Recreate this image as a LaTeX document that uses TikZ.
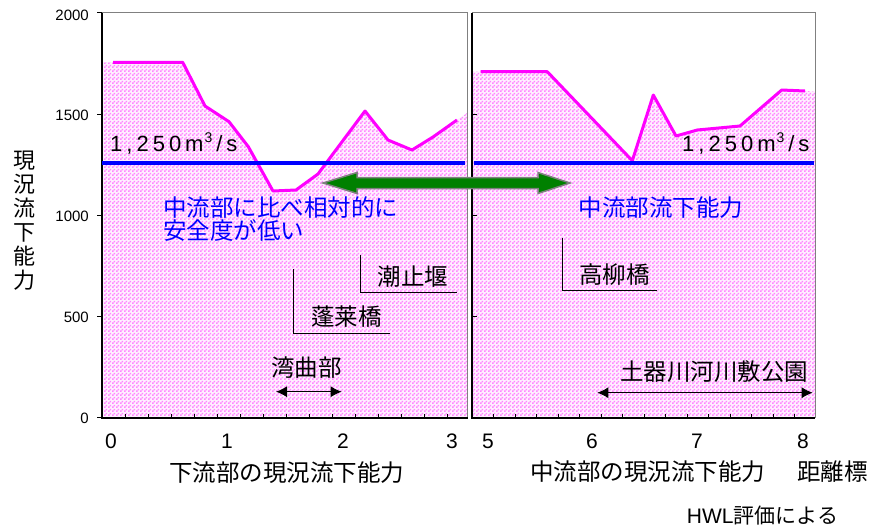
\documentclass[tikz,border=0pt]{standalone}
\usepackage{fontspec}
\setmainfont{Liberation Sans}
\newfontfamily\jp{Noto Sans CJK JP}
\usetikzlibrary{arrows.meta,patterns}
\pgfdeclarepatternformonly{pinkcheck}{\pgfpointorigin}{\pgfpoint{4pt}{4pt}}{\pgfpoint{4pt}{4pt}}{%
  \pgfpathrectangle{\pgfpointorigin}{\pgfpoint{2pt}{2pt}}%
  \pgfpathrectangle{\pgfpoint{2pt}{2pt}}{\pgfpoint{2pt}{2pt}}%
  \pgfusepath{fill}}
\definecolor{pinkline}{RGB}{255,0,255}
\definecolor{pinkpat}{RGB}{255,135,255}
\definecolor{pinkbase}{RGB}{255,240,255}
\definecolor{bluel}{RGB}{0,0,255}
\definecolor{greenarr}{RGB}{0,128,0}
\definecolor{frameg}{RGB}{128,128,128}
\tikzset{
  areafill/.style={fill=pinkbase, draw=none, postaction={pattern=pinkcheck, pattern color=pinkpat}},
  capline/.style={draw=pinkline, line width=3pt, line join=round},
  hwl/.style={draw=bluel, line width=4pt},
  axisk/.style={draw=black, line width=1.6pt},
  frameline/.style={draw=frameg, line width=1pt},
  tickl/.style={draw=black, line width=0.6pt},
  ylab/.style={font=\fontsize{15}{15}\selectfont, inner sep=0, anchor=east},
  xlab/.style={font=\fontsize{21}{21}\selectfont, inner sep=0, anchor=base},
  jplab/.style={font=\jp\fontsize{23.5}{24}\selectfont, inner sep=0, text=black},
  bluelab/.style={font=\jp\fontsize{23.5}{24}\selectfont, inner sep=0, text=bluel},
  bracket/.style={draw=black, line width=0.8pt},
  rangearrow/.style={draw=black, line width=1pt, {Latex[length=11pt,width=11pt]}-{Latex[length=11pt,width=11pt]}},
  flowtxt/.style={font=\fontsize{22}{22}\selectfont, inner sep=0, anchor=base west},
}
\newcommand{\flowval}{1\kern4pt,\kern4pt2\kern4pt5\kern4pt0\kern4pt m\kern1pt\raisebox{0.75ex}{\fontsize{14}{14}\selectfont 3}\kern4pt/\kern4pt s}
\begin{document}
\begin{tikzpicture}[x=1pt, y=-1pt]
\useasboundingbox (0,0) rectangle (872,531);
% fills
\path[areafill] (102,418) -- (102,62.3) -- (113,62.3) -- (182.7,62.3) -- (205,106) -- (229,121.7) -- (248.3,146.7) -- (273,191) -- (296,190) -- (318,174) -- (365,111) -- (388,140) -- (412,150) -- (433,137) -- (457,120) -- (467,113) -- (467,418) -- cycle;
\path[areafill] (472,418) -- (472,71.7) -- (480.7,71.7) -- (547.3,71.7) -- (632.3,160.7) -- (653.3,95) -- (676,136) -- (697.3,130) -- (740,126) -- (781.7,90) -- (805,91) -- (815,91.7) -- (815,418) -- cycle;
% frames
\draw[frameline] (102,12.7) -- (467.5,12.7) -- (467.5,418);
\draw[frameline] (472,12.7) -- (815,12.7) -- (815,418);
% ticks
\foreach \yy in {12.7,114,215.2,316.4,417.7} \draw[tickl] (97,\yy) -- (102,\yy);
\foreach \yy in {114,215.2,316.4} \draw[tickl] (472,\yy) -- (477,\yy);
\foreach \k in {1,...,15} \draw[tickl] (102+23*\k,418) -- (102+23*\k,414);
\foreach \k in {1,...,15} \draw[tickl] (472+21.5*\k,418) -- (472+21.5*\k,414);
% axes
\draw[axisk] (102,12.7) -- (102,418) -- (467.5,418);
\draw[axisk] (472,12.7) -- (472,418) -- (815,418);
% capacity lines
\draw[capline] (113,62.3) -- (182.7,62.3) -- (205,106) -- (229,121.7) -- (248.3,146.7) -- (273,191) -- (296,190) -- (318,174) -- (365,111) -- (388,140) -- (412,150) -- (433,137) -- (457,120);
\draw[capline] (480.7,71.7) -- (547.3,71.7) -- (632.3,160.7) -- (653.3,95) -- (676,136) -- (697.3,130) -- (740,126) -- (781.7,90) -- (805,91);
% design flow lines
\draw[hwl] (102,163.3) -- (465,163.3);
\draw[hwl] (474,163.3) -- (814,163.3);
% green double arrow
\draw[fill=greenarr, draw=frameg, line width=1.5pt, line join=miter] (323,183) -- (357,172.5) -- (357,177.5) -- (538,177.5) -- (538,172.5) -- (570,183) -- (538,193.5) -- (538,188.5) -- (357,188.5) -- (357,193.5) -- cycle;
% y labels
\node[ylab] (y2000) at (89,15) {2000};
\node[ylab] (y1500) at (89,115) {1500};
\node[ylab] (y1000) at (89,216) {1000};
\node[ylab] (y500) at (89,317) {500};
\node[ylab] (y0) at (89,418) {0};
\node[font=\jp\fontsize{22}{24}\selectfont, align=center, inner sep=0] (ytitle) at (24,221) {現\\況\\流\\下\\能\\力};
% x labels
\node[xlab] (x0) at (111,448.3) {0};
\node[xlab] (x1) at (227,448.3) {1};
\node[xlab] (x2) at (343,448.3) {2};
\node[xlab] (x3) at (452,448.3) {3};
\node[xlab] (x5) at (488,448.3) {5};
\node[xlab] (x6) at (592,448.3) {6};
\node[xlab] (x7) at (697,448.3) {7};
\node[xlab] (x8) at (803,448.3) {8};
\node[jplab] (tl) at (286.5,473) {下流部の現況流下能力};
\node[jplab] (tr) at (647.5,472) {中流部の現況流下能力};
\node[jplab] (km) at (832.5,472) {距離標};
\node[font=\fontsize{21}{21}\selectfont, inner sep=0] (note) at (762.5,516) {HWL{\jp 評価による}};
% flow labels
\node[flowtxt] (fl) at (110,151.7) {\flowval};
\node[flowtxt] (fr) at (682,151.7) {\flowval};
% blue texts
\node[bluelab, anchor=west] (b1) at (163,208) {中流部に比べ相対的に};
\node[bluelab, anchor=west] (b2) at (163,231) {安全度が低い};
\node[bluelab] (b3) at (661,208) {中流部流下能力};
% landmarks
\node[jplab] (shio) at (413,277) {潮止堰};
\node[jplab] (hourai) at (346.7,317) {蓬莱橋};
\node[jplab] (wan) at (306.7,368) {湾曲部};
\node[jplab] (taka) at (614.5,275) {高柳橋};
\node[jplab] (park) at (714,371.7) {土器川河川敷公園};
\coordinate (s1) at (360.7,255); \coordinate (s2) at (360.7,292.7); \coordinate (s3) at (456.7,292.7);
\coordinate (h1) at (293.3,269); \coordinate (h2) at (293.3,333); \coordinate (h3) at (390,333);
\coordinate (t1) at (562.3,238); \coordinate (t2) at (562.3,290); \coordinate (t3) at (657.3,290);
\draw[bracket] (s1) -- (s2) -- (s3);
\draw[bracket] (h1) -- (h2) -- (h3);
\draw[bracket] (t1) -- (t2) -- (t3);
\coordinate (w1) at (276,391.7); \coordinate (w2) at (341.7,391.7);
\coordinate (p1) at (597.3,392.7); \coordinate (p2) at (812.7,392.7);
\draw[rangearrow] (w1) -- (w2);
\draw[rangearrow] (p1) -- (p2);
\end{tikzpicture}
\end{document}
